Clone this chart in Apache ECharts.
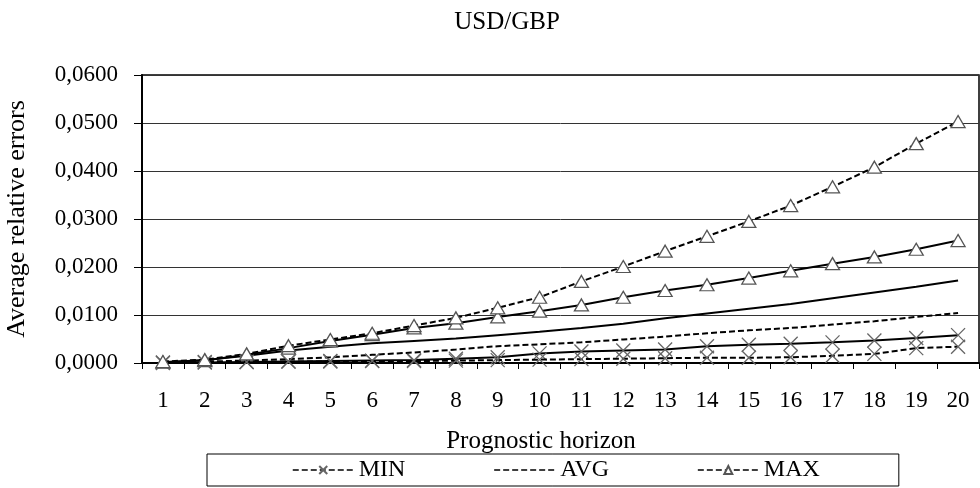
<!DOCTYPE html>
<html>
<head>
<meta charset="utf-8">
<script src="https://cdn.jsdelivr.net/npm/echarts@6/dist/echarts.min.js"></script>
<style>html,body{margin:0;padding:0;background:#fff}#c{width:980px;height:488px}</style>
</head>
<body>
<div id="c"></div>
<script>
const categories = ['1','2','3','4','5','6','7','8','9','10','11','12','13','14','15','16','17','18','19','20'];
const minDashed = [0.0001,0.0002,0.0002,0.0003,0.0003,0.0004,0.0004,0.0005,0.0006,0.0007,0.0008,0.0009,0.0010,0.0011,0.0011,0.0012,0.0015,0.0019,0.0031,0.0034];
const avgDashed = [0.0001,0.0003,0.0005,0.0008,0.0012,0.0017,0.0022,0.0028,0.0035,0.0039,0.0043,0.0049,0.0055,0.0062,0.0068,0.0073,0.0080,0.0087,0.0096,0.0104];
const maxDashed = [0.0003,0.0007,0.0019,0.0036,0.0049,0.0062,0.0078,0.0094,0.0115,0.0137,0.0170,0.0201,0.0233,0.0264,0.0295,0.0328,0.0367,0.0408,0.0457,0.0503];
const minSolid = [0.0000,0.0001,0.0002,0.0003,0.0004,0.0005,0.0006,0.0009,0.0012,0.0020,0.0024,0.0026,0.0028,0.0035,0.0038,0.0040,0.0043,0.0047,0.0052,0.0058];
const avgSolid = [0.0001,0.0006,0.0015,0.0026,0.0034,0.0041,0.0046,0.0051,0.0058,0.0065,0.0073,0.0082,0.0093,0.0103,0.0113,0.0123,0.0135,0.0147,0.0159,0.0172];
const maxSolid = [0.0002,0.0005,0.0017,0.0031,0.0046,0.0059,0.0073,0.0083,0.0096,0.0108,0.0121,0.0137,0.0151,0.0163,0.0177,0.0192,0.0207,0.0221,0.0237,0.0255];
const legendNames = ['MIN','AVG','MAX'];

const FONT = '"Liberation Serif", "Times New Roman", serif';
const crossPath = 'path://M0,0L10,10M10,0L0,10';
const crossStyle = {color: 'none', borderColor: '#666', borderWidth: 1.3};
const triStyle = {color: '#fff', borderColor: '#555', borderWidth: 1.3};
const dash = [6, 3];

function mk(name, data, type, kind) {
  const s = {
    name: name, type: 'line', data: data, smooth: false,
    lineStyle: {color: '#000', width: 2, type: type},
    emphasis: {disabled: true}, z: type === 'solid' ? 3 : 4
  };
  if (kind === 'min') { s.symbol = crossPath; s.symbolSize = 14; s.itemStyle = crossStyle; }
  else if (kind === 'max') { s.symbol = 'triangle'; s.symbolSize = [14, 12]; s.itemStyle = triStyle; }
  else { s.symbol = 'circle'; s.showSymbol = false; s.itemStyle = {color: 'rgba(0,0,0,0)', borderWidth: 0}; }
  return s;
}

const chart = echarts.init(document.getElementById('c'), null, {renderer: 'canvas'});
chart.setOption({
  animation: false,
  backgroundColor: '#fff',
  title: [
    {text: 'USD/GBP', left: 502, top: 5, textAlign: 'center',
     textStyle: {fontFamily: FONT, fontSize: 25, fontWeight: 'normal', color: '#000'}},
    {text: 'Prognostic horizon', left: 536, top: 424, textAlign: 'center',
     textStyle: {fontFamily: FONT, fontSize: 25, fontWeight: 'normal', color: '#000'}}
  ],
  grid: {left: 142, right: 1, top: 75, bottom: 125, show: true, borderColor: '#000', borderWidth: 1.5,
         containLabel: false, outerBoundsMode: 'none'},
  legend: {
    data: legendNames, left: 207, top: 454,
    padding: [4, 79, 4, 85], itemGap: 88,
    itemWidth: 61, itemHeight: 10,
    borderColor: '#000', borderWidth: 1,
    lineStyle: {width: 1.5},
    textStyle: {fontFamily: FONT, fontSize: 24, color: '#000'},
    selectedMode: false
  },
  xAxis: {
    type: 'category', data: categories, boundaryGap: true,
    axisLine: {lineStyle: {color: '#000', width: 2}},
    axisTick: {show: true, length: 6, lineStyle: {color: '#000', width: 1}},
    axisLabel: {fontFamily: FONT, fontSize: 23, color: '#000', margin: 26},
    splitLine: {show: false}
  },
  yAxis: {
    type: 'value', min: 0, max: 0.06, interval: 0.01,
    name: 'Average relative errors', nameLocation: 'middle', nameGap: 112, nameRotate: 90,
    nameTextStyle: {fontFamily: FONT, fontSize: 26, color: '#000'},
    axisLine: {show: true, lineStyle: {color: '#000', width: 2}},
    axisTick: {show: true, length: 8, lineStyle: {color: '#000', width: 1}},
    axisLabel: {fontFamily: FONT, fontSize: 23, color: '#000', margin: 24,
      formatter: v => v.toFixed(4).replace('.', ',')},
    splitLine: {lineStyle: {color: '#333', width: 1}}
  },
  series: [
    mk('MIN (2)', minSolid, 'solid', 'min'),
    mk('AVG (2)', avgSolid, 'solid', 'avg'),
    mk('MAX (2)', maxSolid, 'solid', 'max'),
    mk('MIN', minDashed, dash, 'min'),
    mk('AVG', avgDashed, dash, 'avg'),
    mk('MAX', maxDashed, dash, 'max')
  ]
});
</script>
</body>
</html>
